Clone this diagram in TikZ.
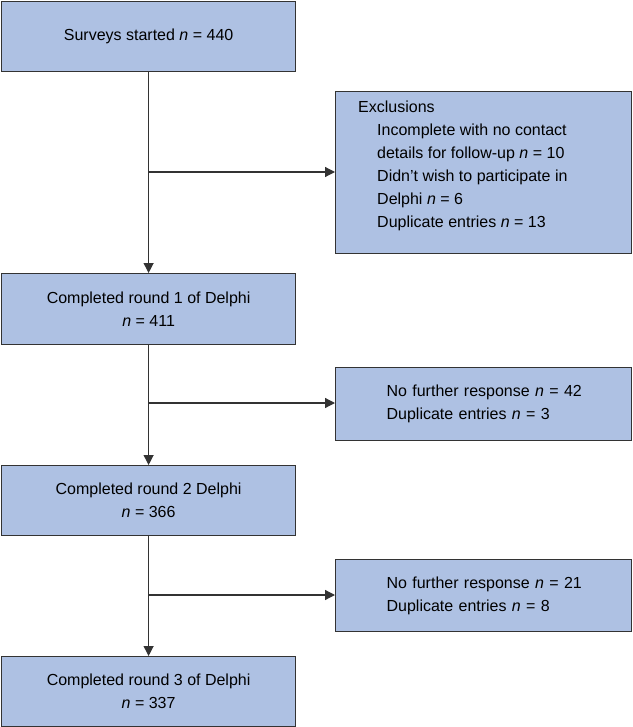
\documentclass[tikz,border=0pt]{standalone}
\usepackage{fontspec}
\setmainfont{Liberation Sans}
\usetikzlibrary{arrows.meta}
\definecolor{boxfill}{HTML}{AEC1E3}
\definecolor{boxline}{HTML}{333333}
\begin{document}
\begin{tikzpicture}[x=1pt,y=-1pt,
  box/.style={draw=boxline,line width=1.2pt,fill=boxfill,inner sep=0pt,font=\fontsize{16}{23}\selectfont},
  arr/.style={draw=boxline,line width=1.2pt,-{Triangle[length=10pt,width=10pt]}},
  ln/.style={draw=boxline,line width=1.2pt}]
\useasboundingbox (0,0) rectangle (632,727);
\node[box,minimum width=294,minimum height=70,anchor=north west,align=center] (b1) at (1,1) {Surveys started \textit{n} = 440};
\node[box,minimum width=296,minimum height=162,anchor=north west] (ex) at (335,91) {};
\node[anchor=north west,inner sep=0pt,align=left,font=\fontsize{16}{23}\selectfont] (ext) at (358,101) {Exclusions\\
\hspace*{19pt}Incomplete with no contact\\
\hspace*{19pt}details for follow-up \textit{n} = 10\\
\hspace*{19pt}Didn’t wish to participate in\\
\hspace*{19pt}Delphi \textit{n} = 6\\
\hspace*{19pt}Duplicate entries \textit{n} = 13};
\node[box,minimum width=294,minimum height=71,anchor=north west,align=center] (b2) at (1,273) {Completed round 1 of Delphi\\\textit{n} = 411};
\node[box,minimum width=296,minimum height=73,anchor=north west,align=left,text width=260,inner xsep=0pt] (n1) at (335,367) {\hspace*{33pt}No further response \textit{n} = 42\\\hspace*{33pt}Duplicate entries \textit{n} = 3};
\node[box,minimum width=294,minimum height=70,anchor=north west,align=center] (b3) at (1,465) {Completed round 2 Delphi\\\textit{n} = 366};
\node[box,minimum width=296,minimum height=72,anchor=north west,align=left,text width=260] (n2) at (335,559) {\hspace*{33pt}No further response \textit{n} = 21\\\hspace*{33pt}Duplicate entries \textit{n} = 8};
\node[box,minimum width=294,minimum height=70,anchor=north west,align=center] (b4) at (1,656) {Completed round 3 of Delphi\\\textit{n} = 337};
\coordinate (j1) at (148,172);
\coordinate (j2) at (148,403);
\coordinate (j3) at (148,595);
\draw[arr] (b1.south) -- (b2.north);
\draw[arr] (b2.south) -- (b3.north);
\draw[arr] (b3.south) -- (b4.north);
\draw[arr] (j1) -- (j1 -| ex.west);
\draw[arr] (j2) -- (j2 -| n1.west);
\draw[arr] (j3) -- (j3 -| n2.west);
\end{tikzpicture}
\end{document}
